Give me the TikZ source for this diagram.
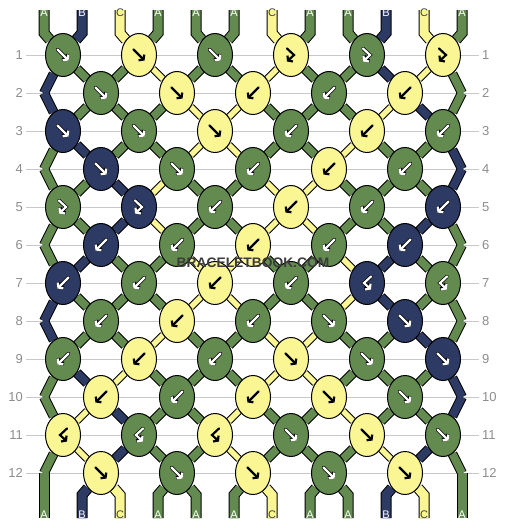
\documentclass[tikz,border=0pt]{standalone}
\usepackage{fontspec}
\setmainfont{Liberation Sans}
\usetikzlibrary{shapes,arrows.meta,backgrounds}

\definecolor{thrA}{RGB}{99,139,80}
\definecolor{thrB}{RGB}{44,58,100}
\definecolor{thrC}{RGB}{250,246,148}
\definecolor{gridgray}{RGB}{200,200,200}
\definecolor{numgray}{RGB}{140,140,140}
\definecolor{markgray}{RGB}{60,60,60}

\tikzset{
  knot/.style={draw=black, line width=1pt, shape=ellipse, fill=thr#1,
    minimum width=35pt, minimum height=43pt, inner sep=0pt},
  rimA/.style={draw=black, line width=10pt},
  rimB/.style={rimA},
  rimC/.style={draw=black, line width=7.5pt},
  coreA/.style={draw=thrA, line width=8pt},
  coreB/.style={draw=thrB, line width=8pt},
  coreC/.style={draw=thrC, line width=5.5pt},
  tailrim/.style={line width=11pt},
  tailcore/.style={line width=9pt},
  ink/.style={line width=2.2pt, -{Straight Barb[length=3pt,width=8pt]}},
  inkA/.style={ink, draw=white, preaction={draw=black, line width=3.6pt}},
  inkB/.style={inkA},
  inkC/.style={ink, draw=black},
  pics/f/.style={code={\draw[ink#1] (-5.5,-5.5) -- (5.5,5.5);}},
  pics/b/.style={code={\draw[ink#1] (5.5,-5.5) -- (-5.5,5.5);}},
  pics/fb/.style={code={\draw[ink#1] (-4,-6.5) -- (3,0) -- (-4,6.5);}},
  pics/bf/.style={code={\draw[ink#1] (4,-6.5) -- (-3,0) -- (4,6.5);}},
  lbl/.style={font=\fontsize{11}{11}\selectfont, inner sep=0pt},
  lblA/.style={lbl, text=white},
  lblB/.style={lbl, text=white},
  lblC/.style={lbl, text=black!75},
  rownum/.style={font=\fontsize{13}{13}\selectfont, text=numgray, inner sep=3pt},
  gridline/.style={draw=gridgray, line width=1pt},
  wmark/.style={font=\bfseries\fontsize{13.8}{14}\selectfont, text=markgray, inner sep=0pt},
}

% one pass over all threads: #1 = rim (black edge) or core (colour)
\newcommand\threadlayer[1]{%
  \foreach \col [count=\p] in {A,B,C,A,A,A,C,A,A,B,C,A} {
    \draw[#1\col, tail#1] (top-\p) -- (n0-\p) -- (n1-\p);
    \draw[#1\col, tail#1] (n12-\p) -- (n13-\p) -- (end-\p);
  }
  \foreach \state [count=\rw] in {
      {B,A,A,C,A,A,C,A,A,B,C,A},
      {B,A,A,A,C,C,A,A,A,C,B,A},
      {A,B,A,A,C,C,A,A,C,A,A,B},
      {A,A,B,C,A,A,C,C,A,A,A,B},
      {A,A,B,C,A,A,C,C,A,A,B,A},
      {A,B,A,A,C,C,A,A,C,B,A,A},
      {B,A,A,A,C,C,A,A,C,B,A,A},
      {B,A,A,C,A,A,C,C,A,A,B,A},
      {A,B,C,A,A,A,C,C,A,A,A,B},
      {A,C,B,A,A,C,A,A,C,A,A,B},
      {A,C,B,A,A,C,A,A,A,C,B,A}} {
    \pgfmathtruncatemacro\nx{\rw+1}
    \foreach \col [count=\p] in \state
      \draw[#1\col] (n\rw-\p) -- (n\nx-\p);
  }
}

\begin{document}
\begin{tikzpicture}[x=1pt, y=-1pt, line cap=round]
  \useasboundingbox (0,0) rectangle (506,528);

  % knots, row by row
  \foreach \knots [count=\rw] in {
      {A/f,C/f,A/f,C/fb,A/fb,C/fb},
      {A/f,C/f,C/b,A/b,C/b},
      {B/f,A/f,C/f,A/b,C/b,A/b},
      {B/f,A/f,A/b,C/b,A/b},
      {A/fb,B/fb,A/b,C/b,A/b,B/b},
      {B/b,A/b,C/b,A/b,B/b},
      {B/b,A/b,C/b,A/b,B/bf,A/bf},
      {A/b,C/b,A/b,A/f,B/f},
      {A/b,C/b,A/b,C/f,A/f,B/f},
      {C/b,A/b,C/b,C/f,A/f},
      {C/bf,A/bf,C/bf,A/f,C/f,A/f},
      {C/f,A/f,C/f,A/f,C/f}} {
    \foreach \kc/\kt [count=\i] in \knots {
      \pgfmathtruncatemacro\p{2*\i-mod(\rw,2)}
      \pgfmathtruncatemacro\q{\p+1}
      \node[knot=\kc, alias=n\rw-\q] (n\rw-\p) at ({25+38*\p},{17+38*\rw}) {};
      \pic at (n\rw-\p) {\kt=\kc};
    }
  }

  % turning points at the edges and thread ends
  \foreach \rw in {2,4,...,12} {
    \coordinate (n\rw-1) at (44,{17+38*\rw});
    \coordinate (n\rw-12) at (462,{17+38*\rw});
  }
  \foreach \col [count=\p] in {A,B,C,A,A,A,C,A,A,B,C,A} {
    \coordinate (top-\p) at ({6+38*\p},10);
    \coordinate (n0-\p) at ({6+38*\p},33);
    \coordinate (n13-\p) at ({6+38*\p},495);
    \coordinate (end-\p) at ({6+38*\p},518);
  }

  % row numbers
  \foreach \rw in {1,...,12} {
    \node[rownum, anchor=east] (rl-\rw) at (26,{17+38*\rw}) {\rw};
    \node[rownum, anchor=west] (rr-\rw) at (479,{17+38*\rw}) {\rw};
  }

  \begin{scope}[on background layer]
    \foreach \rw in {1,...,12}
      \draw[gridline, line cap=butt] (rl-\rw.east) -- (rr-\rw.west);
    \threadlayer{rim}
    \threadlayer{core}
  \end{scope}

  % thread letters
  \foreach \col [count=\p] in {A,B,C,A,A,A,C,A,A,B,C,A} {
    \node[lbl\col] (lt-\p) at ({6+38*\p},13) {\col};
    \node[lbl\col] (lb-\p) at ({6+38*\p},515) {\col};
  }

  % watermark
  \node[wmark] (wm) at (253,263) {BRACELETBOOK.COM};
\end{tikzpicture}
\end{document}
